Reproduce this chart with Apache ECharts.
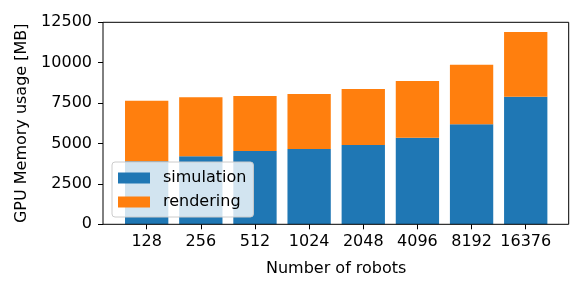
<!DOCTYPE html>
<html>
<head>
<meta charset="utf-8">
<script src="https://cdn.jsdelivr.net/npm/echarts@6/dist/echarts.min.js"></script>
<style>
html,body{margin:0;padding:0;background:#fff;}
#chart{width:586px;height:293px;}
</style>
</head>
<body>
<div id="chart"></div>
<script>
const categories = ['128','256','512','1024','2048','4096','8192','16376'];
const simulation = [3900, 4210, 4540, 4660, 4910, 5360, 6190, 7900];
const rendering = [3750, 3650, 3400, 3400, 3460, 3510, 3690, 4000];
const yTicks = [0, 2500, 5000, 7500, 10000, 12500];

const FONT = 'DejaVu Sans';
const chart = echarts.init(document.getElementById('chart'), null, {renderer: 'canvas'});

const gridTop = 22.3, gridHeight = 202;
chart.setOption({
  animation: false,
  backgroundColor: '#fff',
  textStyle: {fontFamily: FONT},
  grid: [
    {left: 103, top: gridTop, width: 465.7, height: gridHeight, show: true, borderColor: '#000', borderWidth: 1, backgroundColor: 'transparent', z: 3},
    {left: 119.6, top: gridTop, width: 433.2, height: gridHeight}
  ],
  legend: {
    orient: 'vertical',
    left: 112,
    top: 162,
    padding: [8, 7, 7, 6],
    itemWidth: 32,
    itemHeight: 11,
    itemGap: 8,
    backgroundColor: 'rgba(255,255,255,0.8)',
    borderColor: '#cccccc',
    borderWidth: 1,
    borderRadius: 3,
    icon: 'rect',
    textStyle: {fontFamily: FONT, fontSize: 16, color: '#000', padding: [0, 0, 0, 8]},
    data: ['simulation', 'rendering'],
    z: 10
  },
  xAxis: [
    {type: 'value', gridIndex: 0, show: false, min: 0, max: 1},
    {
      type: 'category', gridIndex: 1, data: categories,
      name: 'Number of robots', nameLocation: 'middle', nameGap: 37,
      nameTextStyle: {fontFamily: FONT, fontSize: 16, color: '#000'},
      axisLine: {show: false},
      axisTick: {show: true, alignWithLabel: true, length: 5, interval: 0, lineStyle: {color: '#000', width: 1}},
      axisLabel: {fontFamily: FONT, fontSize: 16, color: '#000', margin: 10, interval: 0},
      splitLine: {show: false}
    }
  ],
  yAxis: [
    {
      type: 'value', gridIndex: 0, min: yTicks[0], max: yTicks[yTicks.length - 1], interval: 2500,
      name: 'GPU Memory usage [MB]', nameLocation: 'middle', nameGap: 70,
      nameTextStyle: {fontFamily: FONT, fontSize: 16, color: '#000'},
      axisLine: {show: false},
      axisTick: {show: true, length: 5, lineStyle: {color: '#000', width: 1}},
      axisLabel: {fontFamily: FONT, fontSize: 16, color: '#000', margin: 11, formatter: v => String(v)},
      splitLine: {show: false}
    },
    {type: 'value', gridIndex: 1, show: false, min: yTicks[0], max: yTicks[yTicks.length - 1]}
  ],
  series: [
    {
      name: 'simulation', type: 'bar', stack: 'total', xAxisIndex: 1, yAxisIndex: 1,
      data: simulation, barWidth: '80%', itemStyle: {color: '#1f77b4'}
    },
    {
      name: 'rendering', type: 'bar', stack: 'total', xAxisIndex: 1, yAxisIndex: 1,
      data: rendering, barWidth: '80%', itemStyle: {color: '#ff7f0e'}
    }
  ]
});
</script>
</body>
</html>
